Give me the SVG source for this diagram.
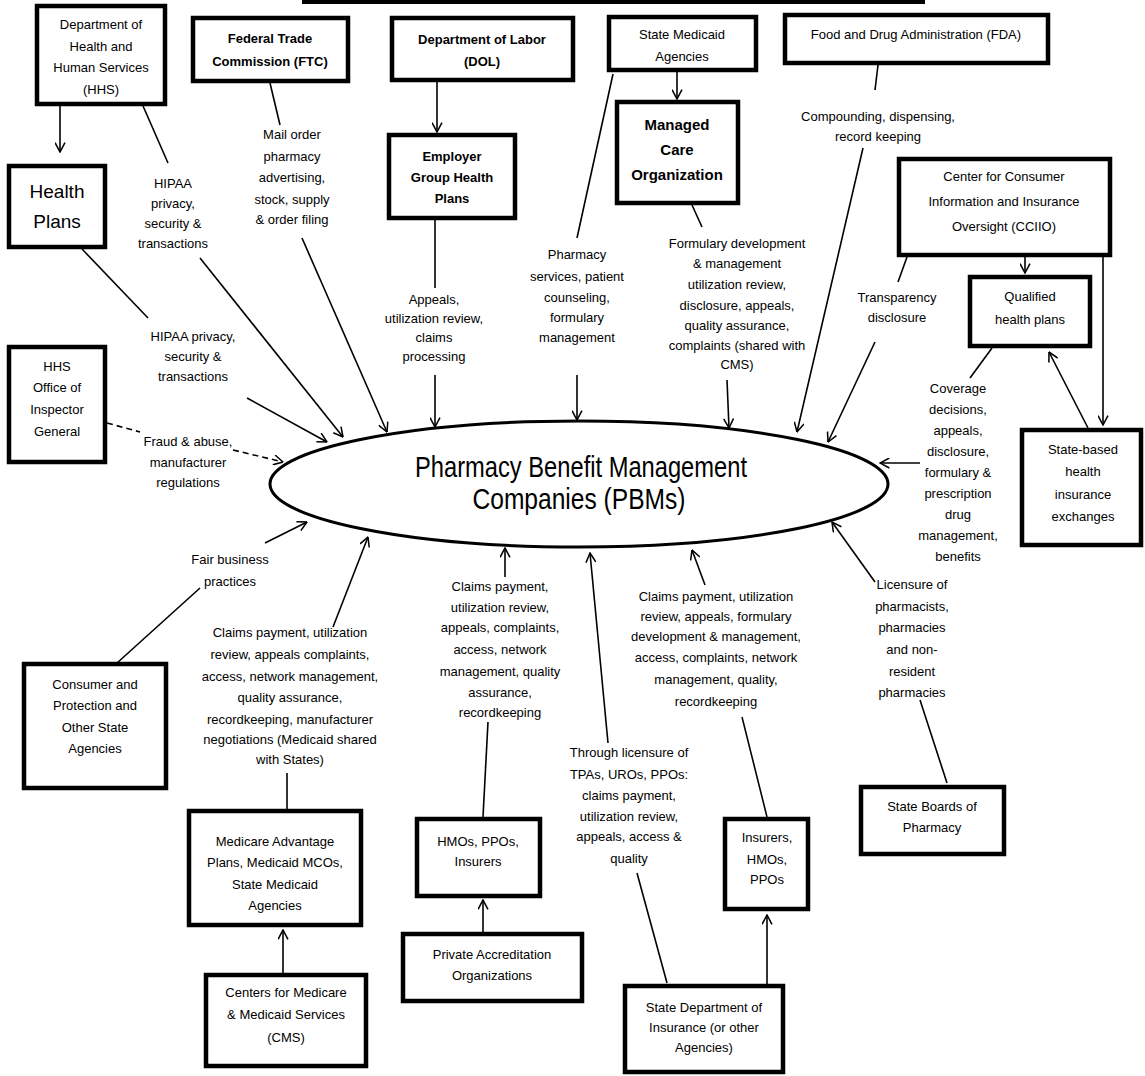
<svg xmlns="http://www.w3.org/2000/svg" width="1145" height="1076" viewBox="0 0 1145 1076">
<style>
.box{fill:#fff;stroke:#000;stroke-width:4.5}
text{font-family:"Liberation Sans",Arial,sans-serif;fill:#000;text-anchor:middle}
.t{font-size:13px}
.b{font-size:13px;font-weight:bold}
.l{font-size:13px}
.c line{stroke:#000;stroke-width:1.6}
.a{marker-end:url(#ah)}
.d{stroke-dasharray:6,4}
</style>
<defs>
<marker id="ah" viewBox="0 0 10 10" refX="9.5" refY="5" markerWidth="11" markerHeight="11" markerUnits="userSpaceOnUse" orient="auto">
<path d="M1,0.5 L9.5,5 L1,9.5" fill="none" stroke="#000" stroke-width="1.4"/>
</marker>
</defs>
<rect width="1145" height="1076" fill="#fff"/>
<rect x="302" y="0" width="623" height="4" fill="#000"/>

<g id="pbm">
<ellipse cx="579" cy="484" rx="309" ry="63" fill="#fff" stroke="#000" stroke-width="3"/>
<text x="581" y="477" font-size="30" textLength="332" lengthAdjust="spacingAndGlyphs">Pharmacy Benefit Management</text>
<text x="579" y="509" font-size="30" textLength="213" lengthAdjust="spacingAndGlyphs">Companies  (PBMs)</text>
</g>

<g id="hhs"><rect class="box" x="37" y="6" width="128" height="98"/>
<text class="t" x="101" y="29">Department of</text><text class="t" x="101" y="51">Health and</text><text class="t" x="101" y="72">Human Services</text><text class="t" x="101" y="94">(HHS)</text></g>
<g id="health-plans"><rect class="box" x="9" y="166" width="96" height="81"/>
<text x="57" y="198" font-size="19">Health</text><text x="57" y="228" font-size="19">Plans</text></g>
<g id="ftc"><rect class="box" x="193" y="18" width="155" height="63"/>
<text class="b" x="270" y="43">Federal Trade</text><text class="b" x="270" y="66">Commission (FTC)</text></g>
<g id="dol"><rect class="box" x="392" y="18" width="181" height="62"/>
<text class="b" x="482" y="44">Department of Labor</text><text class="b" x="482" y="66">(DOL)</text></g>
<g id="employer"><rect class="box" x="389" y="135" width="126" height="83"/>
<text class="b" x="452" y="161" font-size="14">Employer</text><text class="b" x="452" y="182" font-size="14">Group Health</text><text class="b" x="452" y="203" font-size="14">Plans</text></g>
<g id="state-medicaid"><rect class="box" x="609" y="17" width="147" height="53"/>
<text class="t" x="682" y="39">State Medicaid</text><text class="t" x="682" y="61">Agencies</text></g>
<g id="mco"><rect class="box" x="617" y="102" width="121" height="101"/>
<text class="b" x="677" y="130" style="font-size:15px">Managed</text><text class="b" x="677" y="155" style="font-size:15px">Care</text><text class="b" x="677" y="180" style="font-size:15px">Organization</text></g>
<g id="fda"><rect class="box" x="785" y="15" width="263" height="48"/>
<text class="t" x="916" y="39">Food and Drug Administration (FDA)</text></g>
<g id="cciio"><rect class="box" x="899" y="159" width="211" height="96"/>
<text class="t" x="1004" y="181">Center for Consumer</text><text class="t" x="1004" y="206">Information and Insurance</text><text class="t" x="1004" y="231">Oversight (CCIIO)</text></g>
<g id="qhp"><rect class="box" x="970" y="277" width="120" height="69"/>
<text class="t" x="1030" y="301">Qualified</text><text class="t" x="1030" y="324">health plans</text></g>
<g id="exchanges"><rect class="box" x="1022" y="430" width="119" height="115"/>
<text class="t" x="1083" y="454">State-based</text><text class="t" x="1083" y="476">health</text><text class="t" x="1083" y="499">insurance</text><text class="t" x="1083" y="521">exchanges</text></g>
<g id="oig"><rect class="box" x="9" y="347" width="96" height="115"/>
<text class="t" x="57" y="371">HHS</text><text class="t" x="57" y="392">Office of</text><text class="t" x="57" y="414">Inspector</text><text class="t" x="57" y="436">General</text></g>
<g id="consumer"><rect class="box" x="24" y="664" width="142" height="124"/>
<text class="t" x="95" y="689">Consumer and</text><text class="t" x="95" y="710">Protection and</text><text class="t" x="95" y="732">Other State</text><text class="t" x="95" y="753">Agencies</text></g>
<g id="medicare"><rect class="box" x="189" y="811" width="172" height="114"/>
<text class="t" x="275" y="846">Medicare Advantage</text><text class="t" x="275" y="867">Plans, Medicaid MCOs,</text><text class="t" x="275" y="889">State Medicaid</text><text class="t" x="275" y="910">Agencies</text></g>
<g id="cms"><rect class="box" x="206" y="975" width="160" height="91"/>
<text class="t" x="286" y="997">Centers for Medicare</text><text class="t" x="286" y="1019">&amp; Medicaid Services</text><text class="t" x="286" y="1042">(CMS)</text></g>
<g id="hmos"><rect class="box" x="417" y="819" width="123" height="77"/>
<text class="t" x="478" y="846">HMOs, PPOs,</text><text class="t" x="478" y="866">Insurers</text></g>
<g id="private"><rect class="box" x="403" y="934" width="179" height="67"/>
<text class="t" x="492" y="959">Private Accreditation</text><text class="t" x="492" y="980">Organizations</text></g>
<g id="state-doi"><rect class="box" x="625" y="986" width="158" height="86"/>
<text class="t" x="704" y="1012">State Department of</text><text class="t" x="704" y="1032">Insurance (or other</text><text class="t" x="704" y="1052">Agencies)</text></g>
<g id="insurers"><rect class="box" x="725" y="819" width="83" height="90"/>
<text class="t" x="767" y="842">Insurers,</text><text class="t" x="767" y="864">HMOs,</text><text class="t" x="767" y="884">PPOs</text></g>
<g id="boards"><rect class="box" x="861" y="787" width="143" height="67"/>
<text class="t" x="932" y="811">State Boards of</text><text class="t" x="932" y="832">Pharmacy</text></g>

<g id="labels">
<text class="l" x="173" y="188">HIPAA</text><text class="l" x="173" y="208">privacy,</text><text class="l" x="173" y="228">security &amp;</text><text class="l" x="173" y="248">transactions</text>
<text class="l" x="193" y="341">HIPAA privacy,</text><text class="l" x="193" y="361">security &amp;</text><text class="l" x="193" y="381">transactions</text>
<text class="l" x="292" y="139">Mail order</text><text class="l" x="292" y="161">pharmacy</text><text class="l" x="292" y="182">advertising,</text><text class="l" x="292" y="204">stock, supply</text><text class="l" x="292" y="224">&amp; order filing</text>
<text class="l" x="434" y="304">Appeals,</text><text class="l" x="434" y="323">utilization review,</text><text class="l" x="434" y="342">claims</text><text class="l" x="434" y="361">processing</text>
<text class="l" x="577" y="259">Pharmacy</text><text class="l" x="577" y="281">services, patient</text><text class="l" x="577" y="302">counseling,</text><text class="l" x="577" y="322">formulary</text><text class="l" x="577" y="342">management</text>
<text class="l" x="737" y="248">Formulary development</text><text class="l" x="737" y="268">&amp; management</text><text class="l" x="737" y="289">utilization review,</text><text class="l" x="737" y="310">disclosure, appeals,</text><text class="l" x="737" y="330">quality assurance,</text><text class="l" x="737" y="350">complaints (shared with</text><text class="l" x="737" y="369">CMS)</text>
<text class="l" x="878" y="121">Compounding, dispensing,</text><text class="l" x="878" y="141">record keeping</text>
<text class="l" x="897" y="302">Transparency</text><text class="l" x="897" y="322">disclosure</text>
<text class="l" x="958" y="393">Coverage</text><text class="l" x="958" y="414">decisions,</text><text class="l" x="958" y="435">appeals,</text><text class="l" x="958" y="456">disclosure,</text><text class="l" x="958" y="477">formulary &amp;</text><text class="l" x="958" y="498">prescription</text><text class="l" x="958" y="519">drug</text><text class="l" x="958" y="540">management,</text><text class="l" x="958" y="561">benefits</text>
<text class="l" x="912" y="589">Licensure of</text><text class="l" x="912" y="611">pharmacists,</text><text class="l" x="912" y="632">pharmacies</text><text class="l" x="912" y="654">and non-</text><text class="l" x="912" y="676">resident</text><text class="l" x="912" y="697">pharmacies</text>
<text class="l" x="716" y="601">Claims payment, utilization</text><text class="l" x="716" y="621">review, appeals, formulary</text><text class="l" x="716" y="641">development &amp; management,</text><text class="l" x="716" y="662">access, complaints, network</text><text class="l" x="716" y="684">management, quality,</text><text class="l" x="716" y="706">recordkeeping</text>
<text class="l" x="629" y="757">Through licensure of</text><text class="l" x="629" y="779">TPAs, UROs, PPOs:</text><text class="l" x="629" y="800">claims payment,</text><text class="l" x="629" y="821">utilization review,</text><text class="l" x="629" y="841">appeals, access &amp;</text><text class="l" x="629" y="863">quality</text>
<text class="l" x="500" y="591">Claims payment,</text><text class="l" x="500" y="612">utilization review,</text><text class="l" x="500" y="632">appeals, complaints,</text><text class="l" x="500" y="654">access, network</text><text class="l" x="500" y="676">management, quality</text><text class="l" x="500" y="697">assurance,</text><text class="l" x="500" y="717">recordkeeping</text>
<text class="l" x="290" y="637">Claims payment, utilization</text><text class="l" x="290" y="659">review, appeals complaints,</text><text class="l" x="290" y="681">access, network management,</text><text class="l" x="290" y="702">quality assurance,</text><text class="l" x="290" y="724">recordkeeping, manufacturer</text><text class="l" x="290" y="744">negotiations (Medicaid shared</text><text class="l" x="290" y="764">with States)</text>
<text class="l" x="230" y="564">Fair business</text><text class="l" x="230" y="586">practices</text>
<text class="l" x="188" y="446">Fraud &amp; abuse,</text><text class="l" x="188" y="467">manufacturer</text><text class="l" x="188" y="487">regulations</text>
</g>

<g id="connectors" class="c">
<line class="a" x1="60" y1="106" x2="60" y2="152"/>
<line x1="143" y1="106" x2="168" y2="163"/>
<line class="a" x1="200" y1="258" x2="343" y2="437"/>
<line x1="82" y1="249" x2="148" y2="318"/>
<line class="a" x1="247" y1="398" x2="327" y2="442"/>
<line x1="270" y1="83" x2="280" y2="125"/>
<line class="a" x1="302" y1="238" x2="387" y2="432"/>
<line class="a" x1="437" y1="82" x2="437" y2="132"/>
<line x1="435" y1="220" x2="435" y2="288"/>
<line class="a" x1="435" y1="375" x2="435" y2="427"/>
<line class="a" x1="677" y1="72" x2="677" y2="99"/>
<line x1="613" y1="74" x2="577" y2="238"/>
<line class="a" x1="577" y1="375" x2="577" y2="420"/>
<line x1="692" y1="205" x2="702" y2="227"/>
<line class="a" x1="727" y1="380" x2="729" y2="428"/>
<line x1="878" y1="65" x2="875" y2="90"/>
<line class="a" x1="863" y1="148" x2="797" y2="432"/>
<line x1="907" y1="257" x2="898" y2="282"/>
<line class="a" x1="875" y1="342" x2="828" y2="442"/>
<line class="a" x1="1025" y1="257" x2="1025" y2="273"/>
<line class="a" x1="1103" y1="257" x2="1103" y2="425"/>
<line class="a" x1="1088" y1="428" x2="1049" y2="352"/>
<line x1="992" y1="348" x2="970" y2="378"/>
<line class="a" x1="920" y1="463" x2="880" y2="463"/>
<line class="a" x1="875" y1="582" x2="832" y2="522"/>
<line x1="947" y1="783" x2="920" y2="700"/>
<line class="a" x1="705" y1="585" x2="692" y2="550"/>
<line x1="767" y1="817" x2="742" y2="717"/>
<line class="a" x1="767" y1="984" x2="767" y2="915"/>
<line class="a" x1="608" y1="743" x2="590" y2="553"/>
<line x1="667" y1="983" x2="637" y2="873"/>
<line class="a" x1="505" y1="577" x2="505" y2="548"/>
<line x1="483" y1="817" x2="488" y2="722"/>
<line class="a" x1="483" y1="932" x2="483" y2="900"/>
<line class="a" x1="333" y1="627" x2="368" y2="537"/>
<line x1="287" y1="809" x2="287" y2="773"/>
<line class="a" x1="283" y1="973" x2="283" y2="930"/>
<line class="a" x1="265" y1="543" x2="307" y2="522"/>
<line x1="117" y1="663" x2="200" y2="588"/>
<line class="d" x1="107" y1="423" x2="140" y2="432"/>
<line class="a d" x1="233" y1="450" x2="283" y2="462"/>
</g>
</svg>
